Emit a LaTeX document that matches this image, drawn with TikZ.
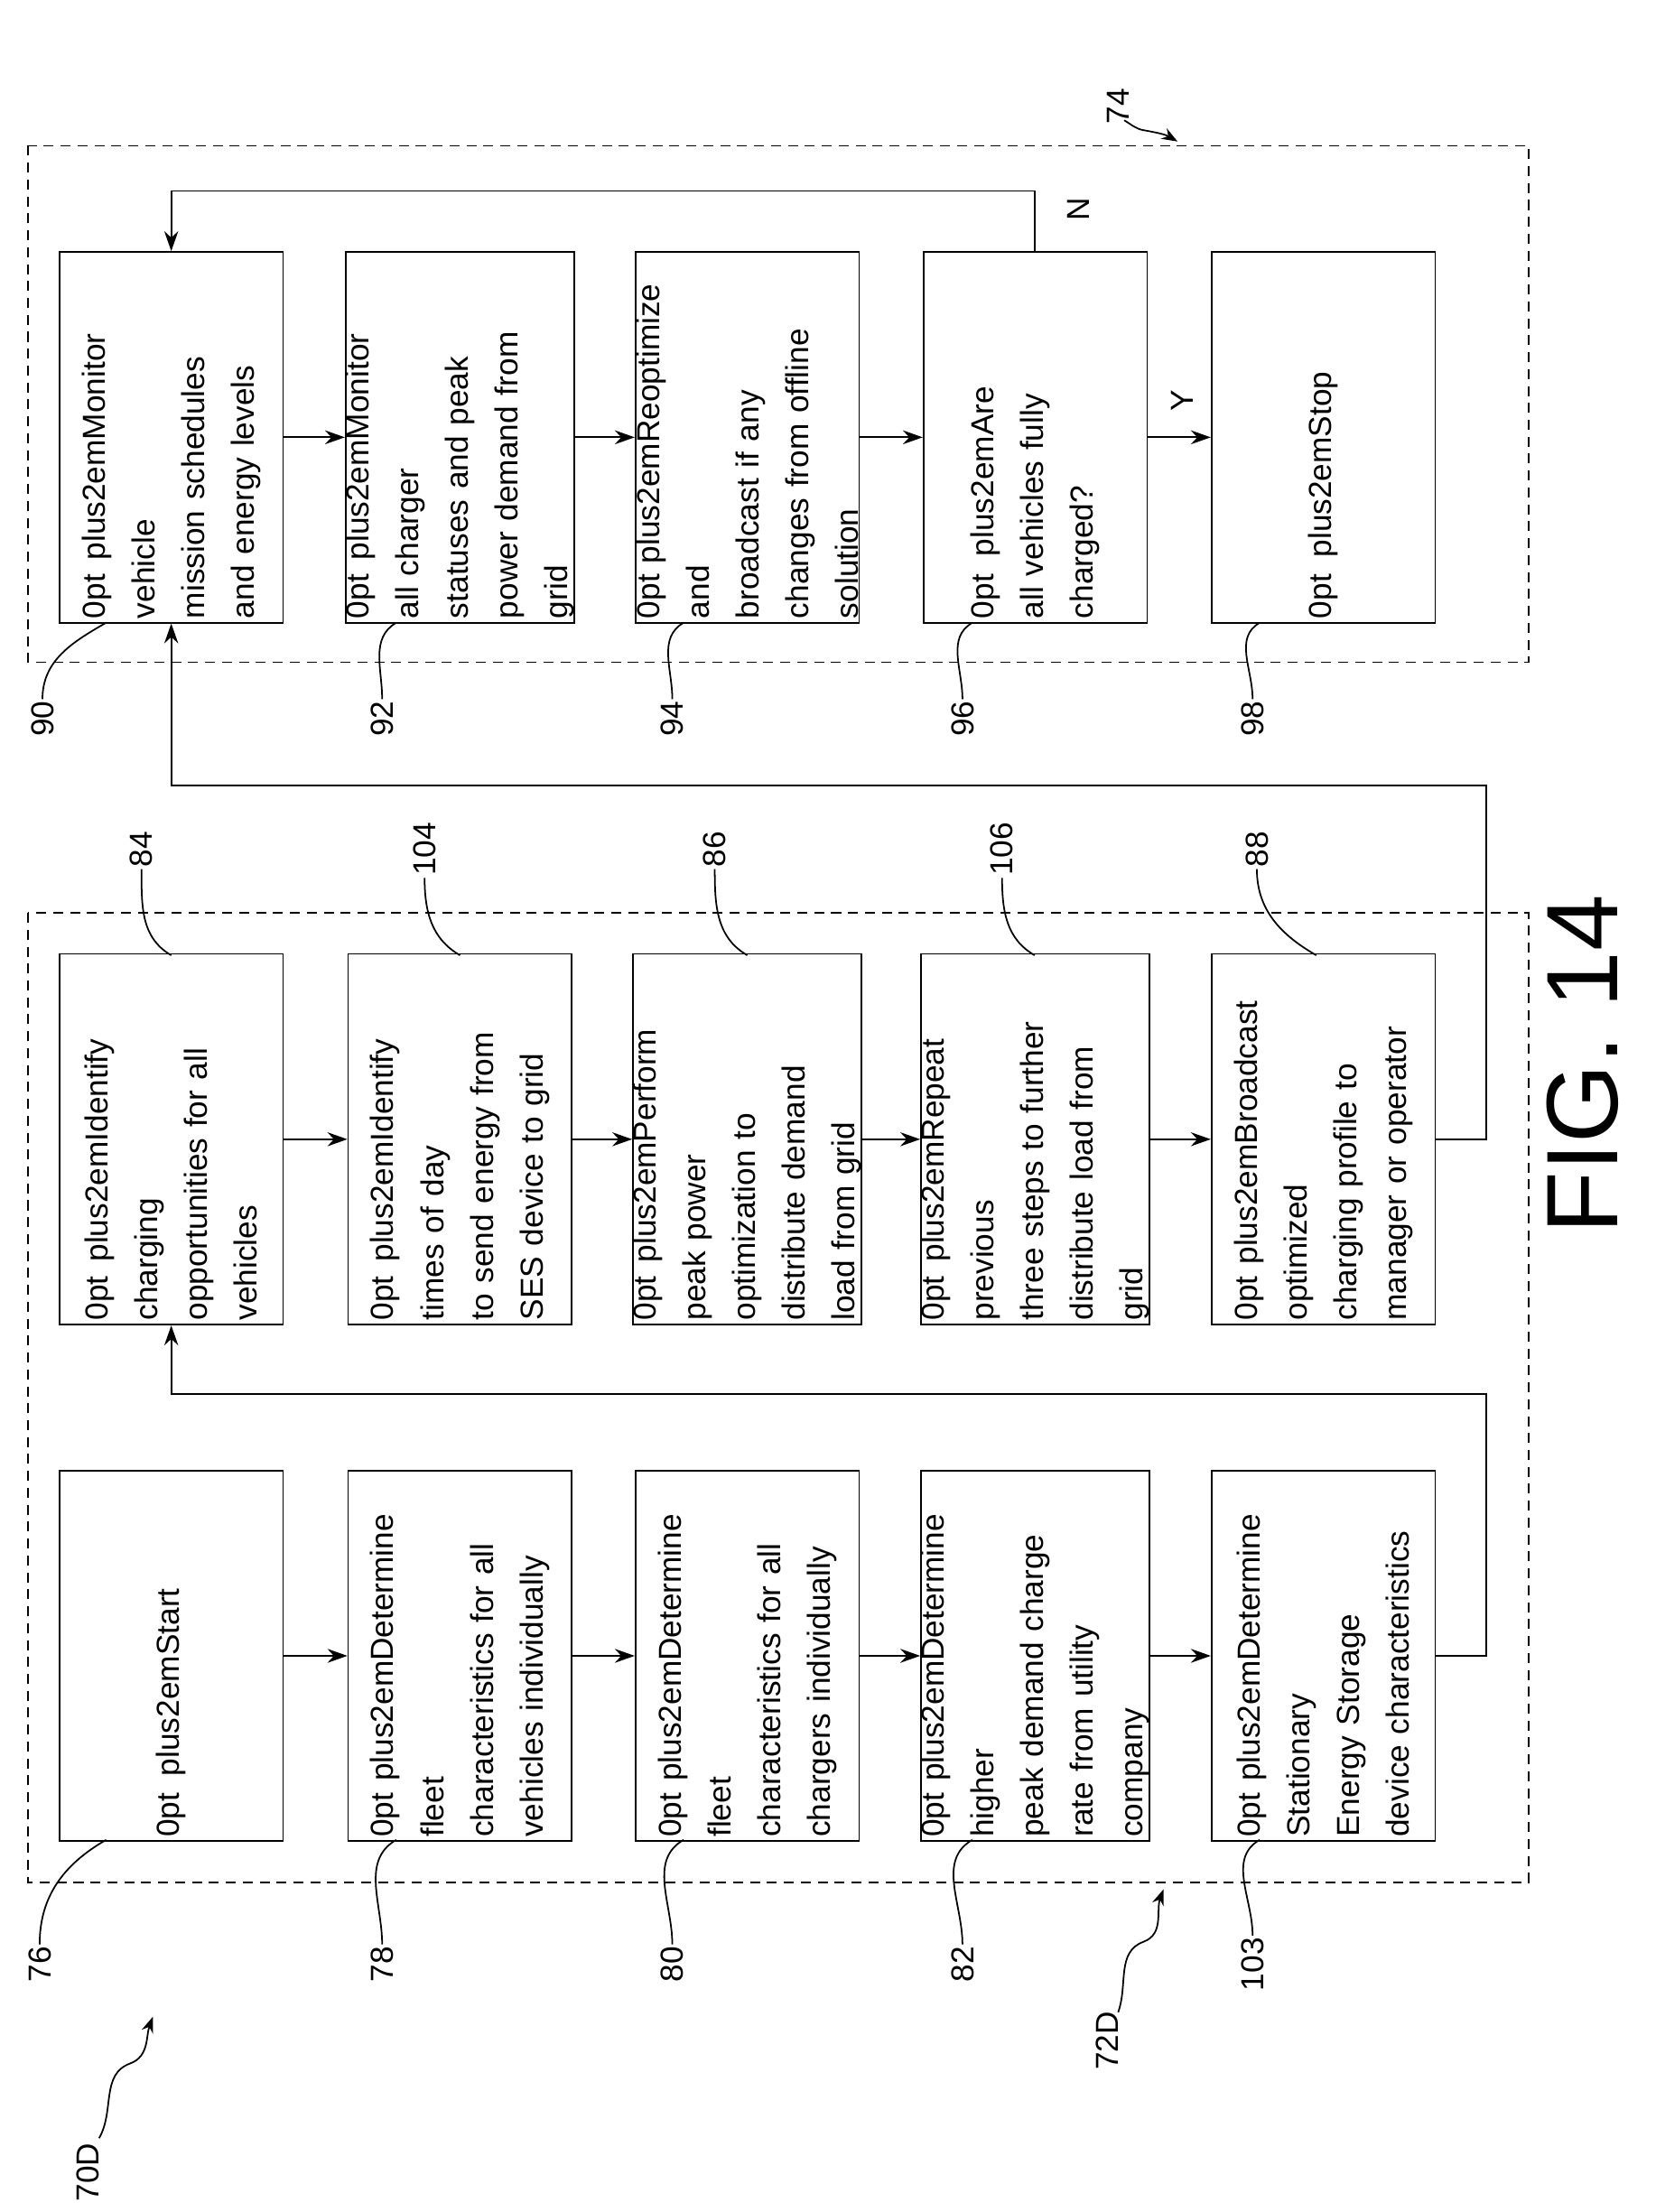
\documentclass[tikz,border=0pt]{standalone}
\usepackage{fontspec}
\setmainfont{Liberation Sans}
\usetikzlibrary{arrows.meta}
\begin{document}
\begin{tikzpicture}[x=0.5mm,y=-0.5mm,
 box/.style={draw,line width=1.6pt,rotate=90,minimum width=131mm,minimum height=79mm,align=center,text width=128mm,font=\fontsize{32}{50}\selectfont\hyphenpenalty=10000,inner sep=0pt},
 lab/.style={rotate=90,font=\fontsize{32}{36}\selectfont,inner sep=2pt},
 arr/.style={line width=1.6pt,-{Stealth[length=20pt,width=14pt]}},
 ln/.style={line width=1.6pt},
 dashbox/.style={line width=1.6pt,dash pattern=on 10pt off 7pt}]
\useasboundingbox (0,0) rectangle (1170,1563);
\draw[dashbox] (20,103) rectangle (1080,468);
\draw[dashbox] (20,645) rectangle (1080,1330);
% top row
\node[box] (n90) at (121,309) {Monitor vehicle\\mission schedules\\and energy levels};
\node[box] (n92) at (325,309) {Monitor all charger\\statuses and peak\\power demand from\\grid};
\node[box] (n94) at (528,309) {Reoptimize and\\broadcast if any\\changes from offline\\solution};
\node[box] (n96) at (731.5,309) {Are all vehicles fully\\charged?};
\node[box] (n98) at (935,309) {Stop};
% middle row
\node[box] (n84) at (121,805) {Identify charging\\opportunities for all\\vehicles};
\node[box] (n104) at (325,805) {Identify times of day\\to send energy from\\SES device to grid};
\node[box] (n86) at (528,805) {Perform peak power\\optimization to\\distribute demand\\load from grid};
\node[box] (n106) at (731.5,805) {Repeat previous\\three steps to further\\distribute load from\\grid};
\node[box] (n88) at (935,805) {Broadcast optimized\\charging profile to\\manager or operator};
% bottom row
\node[box] (n76) at (121,1170) {Start};
\node[box] (n78) at (325,1170) {Determine fleet\\characteristics for all\\vehicles individually};
\node[box] (n80) at (528,1170) {Determine fleet\\characteristics for all\\chargers individually};
\node[box] (n82) at (731.5,1170) {Determine higher\\peak demand charge\\rate from utility\\company};
\node[box] (n103) at (935,1170) {Determine Stationary\\Energy Storage\\device characteristics};
% arrows
\foreach \a/\b in {n90/n92,n92/n94,n94/n96,n96/n98,n84/n104,n104/n86,n86/n106,n106/n88,n76/n78,n78/n80,n80/n82,n82/n103}
  \draw[arr] (\a.south) -- (\b.north);
\draw[arr] (n103.south) -- (1050,1170) -- (1050,985) -- (121,985) -- (n84.west);
\draw[arr] (n88.south) -- (1050,805) -- (1050,555) -- (121,555) -- (n90.west);
\draw[arr] (n96.east -| 731,0) -- (731,135) -- (121,135) -- (n90.east);
\node[lab] (ly) at (835,283) {Y};
\node[lab] (lnn) at (762,148) {N};
% reference labels
\foreach \n/\x/\bx in {90/30/75,92/270/280,94/475/483,96/680/687,98/885/890}{
  \node[lab] (l\n) at (\x,508) {\n};
  \draw[ln] (l\n.east) to[out=90,in=210] (\bx,440);}
\foreach \n/\x/\bx in {76/28/75,78/270/280,80/475/483,82/680/687,103/885/890}{
  \node[lab] (l\n) at (\x,1388) {\n};
  \draw[ln] (l\n.east) to[out=90,in=210] (\bx,1300);}
\foreach \n/\x/\bx in {84/100/121,104/300/325,86/505/528,106/708/731,88/888/930}{
  \node[lab] (l\n) at (\x,600) {\n};
  \draw[ln] (l\n.west) to[out=-90,in=150] (\bx,675);}
\node[lab] (l72) at (782,1442) {72D};
\draw[ln,-{Stealth[length=16pt,width=12pt]}] (l72.east) ++(8,2) to[out=70,in=200] (808,1372) to[out=20,in=250] (822,1335);
\node[lab] (l70) at (62,1535) {70D};
\draw[ln,-{Stealth[length=16pt,width=12pt]}] (l70.east) ++(8,-2) to[out=60,in=200] (92,1458) to[out=20,in=250] (108,1425);
\node[lab] (l74) at (790,75) {74};
\draw[ln,-{Stealth[length=16pt,width=12pt]}] (l74.south) ++(-5,10) to[out=-30,in=170] (808,92) to[out=-10,in=150] (832,100);
\node[rotate=90,font=\fontsize{102}{102}\selectfont] (fig) at (1118,752) {FIG. 14};
\end{tikzpicture}
\end{document}
